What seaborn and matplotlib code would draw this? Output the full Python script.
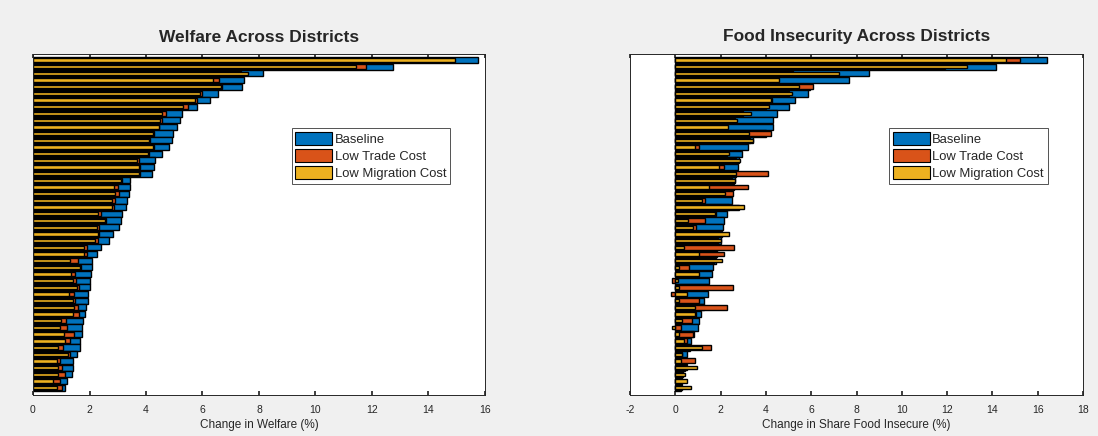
import numpy as np
import pandas as pd
import matplotlib
matplotlib.use('Agg')
import matplotlib.pyplot as plt
import seaborn as sns
from matplotlib.patches import Patch

# districts ranked by baseline (top row = largest change)
welfare_base = [15.75, 12.75, 8.15, 7.47, 7.4, 6.54, 6.28, 5.8, 5.26, 5.21,
                5.1, 4.97, 4.93, 4.82, 4.55, 4.33, 4.28, 4.22, 3.43, 3.43,
                3.4, 3.33, 3.28, 3.15, 3.12, 3.05, 2.84, 2.7, 2.4, 2.25,
                2.1, 2.08, 2.06, 2.0, 2.0, 1.96, 1.93, 1.88, 1.84, 1.78,
                1.72, 1.72, 1.66, 1.66, 1.57, 1.43, 1.43, 1.37, 1.22, 1.13]
welfare_trade = [13.9, 11.8, 7.35, 6.6, 6.7, 6.0, 5.8, 5.5, 4.7, 4.55,
                 4.45, 4.3, 4.15, 4.3, 4.1, 3.75, 3.8, 3.8, 3.15, 3.0,
                 3.05, 2.9, 2.85, 2.4, 2.6, 2.35, 2.35, 2.3, 1.9, 1.9,
                 1.6, 1.7, 1.5, 1.52, 1.64, 1.46, 1.48, 1.58, 1.64, 1.16,
                 1.2, 1.46, 1.31, 1.07, 1.3, 0.96, 1.04, 1.15, 0.96, 1.01]
welfare_migr = [14.95, 11.45, 7.6, 6.36, 6.65, 5.9, 5.74, 5.3, 4.57, 4.5,
                4.45, 4.26, 4.1, 4.24, 4.07, 3.68, 3.75, 3.75, 3.1, 2.85,
                2.9, 2.8, 2.8, 2.3, 2.55, 2.27, 2.3, 2.2, 1.8, 1.8,
                1.3, 1.65, 1.35, 1.4, 1.55, 1.28, 1.4, 1.44, 1.4, 0.99,
                0.97, 1.08, 1.13, 0.9, 1.25, 0.84, 0.9, 0.87, 0.7, 0.86]

food_base = [16.41, 14.16, 8.53, 7.65, 5.95, 5.84, 5.3, 5.03, 4.47, 4.33,
             4.33, 4.0, 3.45, 3.19, 2.94, 2.83, 2.75, 2.7, 2.62, 2.58,
             2.5, 2.5, 2.38, 2.27, 2.16, 2.09, 2.05, 2.0, 1.95, 1.85,
             1.8, 1.68, 1.62, 1.47, 1.45, 1.43, 1.28, 1.25, 1.13, 1.06,
             1.0, 0.82, 0.68, 0.65, 0.53, 0.5, 0.45, 0.35, 0.3, 0.25]
food_trade = [15.23, 11.92, 5.2, 4.4, 6.09, 5.0, 4.25, 4.0, 3.0, 2.65,
              2.2, 4.22, 3.3, 1.03, 2.3, 2.7, 2.16, 4.08, 2.5, 3.19,
              2.53, 1.3, 2.8, 1.8, 1.32, 0.9, 2.0, 1.9, 2.6, 2.16,
              1.7, 0.59, 0.6, -0.15, 2.53, -0.2, 1.03, 2.27, 0.9, 0.74,
              0.25, 0.8, 0.5, 1.57, 0.3, 0.88, 0.5, 0.3, 0.2, 0.3]
food_migr = [14.6, 12.88, 7.24, 4.56, 5.44, 5.15, 4.22, 4.15, 3.34, 2.73,
             2.34, 3.24, 3.41, 0.88, 2.36, 2.86, 1.91, 2.68, 2.65, 1.47,
             2.2, 1.18, 3.05, 1.77, 0.54, 0.8, 2.35, 2.02, 0.4, 1.03,
             2.06, 0.15, 1.03, 0.1, 0.15, 0.5, 0.15, 0.88, 0.88, 0.3,
             -0.15, 0.15, 0.4, 1.18, 0.3, 0.25, 0.94, 0.44, 0.5, 0.69]

series_names = ['Baseline', 'Low Trade Cost', 'Low Migration Cost']
colors = ['#0072BD', '#D95319', '#EDB120']
widths = [0.92, 0.72, 0.5]

sns.set_theme(style='white')
plt.rcParams['font.family'] = ['Liberation Sans', 'DejaVu Sans']
plt.rcParams['axes.unicode_minus'] = False

fig = plt.figure(figsize=(10.98, 4.36), dpi=100, facecolor='#f0f0f0')
ax1 = fig.add_axes([33 / 1098, 41 / 436, 452 / 1098, 341 / 436])
ax2 = fig.add_axes([630 / 1098, 41 / 436, 453 / 1098, 341 / 436])


def draw_panel(ax, series, xlim, title, xlabel):
    n = len(series[0])
    names = [f'd{i}' for i in range(n)]
    for vals, col, w in zip(series, colors, widths):
        df = pd.DataFrame({'district': names, 'value': vals})
        sns.barplot(data=df, x='value', y='district', order=names, orient='h',
                    width=w, color=col, saturation=1, edgecolor='black',
                    linewidth=1.0, errorbar=None, ax=ax)
    ax.set_facecolor('white')
    ax.set_ylim(n + 0.1, -0.9)
    ax.set_yticks([])
    ax.set_ylabel('')
    ax.set_xlim(*xlim)
    ax.set_xticks(np.arange(xlim[0], xlim[1] + 1, 2))
    ax.tick_params(axis='x', direction='in', length=3, top=True, bottom=True,
                   labelsize=7.5, pad=7, color='#262626', labelcolor='#262626')
    for sp in ax.spines.values():
        sp.set_visible(True)
        sp.set_color('#262626')
        sp.set_linewidth(0.7)
    ax.set_title(title, fontsize=12.5, fontweight='bold', pad=9)
    ax.set_xlabel(xlabel, fontsize=8.5, labelpad=3, color='#262626')
    handles = [Patch(facecolor=c, edgecolor='black', linewidth=0.8, label=s)
               for c, s in zip(colors, series_names)]
    leg = ax.legend(handles=handles, loc='upper left', bbox_to_anchor=(0.572, 0.784),
                    fontsize=9.4, frameon=True, fancybox=False, handlelength=2.8,
                    handleheight=1.2, labelspacing=0.22, handletextpad=0.2,
                    borderpad=0.3, borderaxespad=0)
    leg.get_frame().set_edgecolor('#262626')
    leg.get_frame().set_linewidth(0.7)


draw_panel(ax1, [welfare_base, welfare_trade, welfare_migr], (0, 16),
           'Welfare Across Districts', 'Change in Welfare (%)')
draw_panel(ax2, [food_base, food_trade, food_migr], (-2, 18),
           'Food Insecurity Across Districts', 'Change in Share Food Insecure (%)')

fig.savefig('out.png', dpi=100, facecolor=fig.get_facecolor())
